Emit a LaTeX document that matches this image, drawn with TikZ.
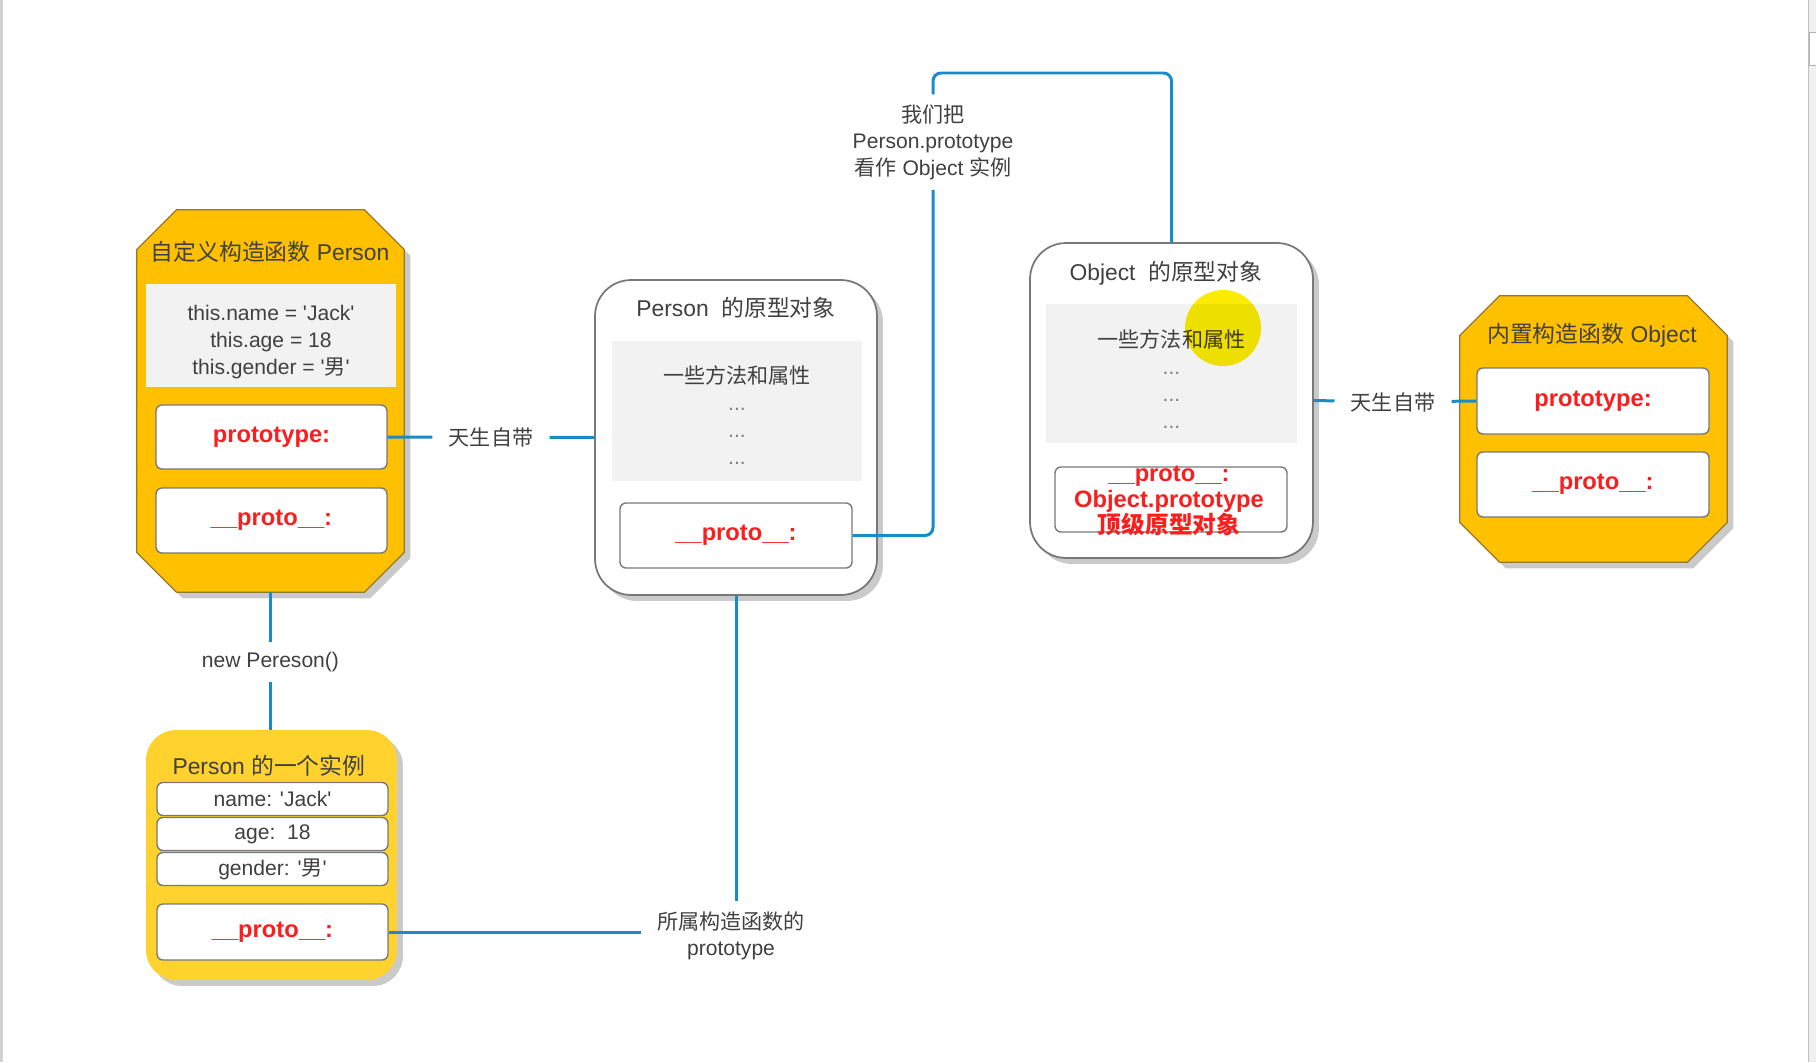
\documentclass[tikz,border=0pt]{standalone}
\usepackage{fontspec}
\setmainfont{Liberation Sans}
\newfontfamily\zhfont{Noto Sans CJK SC}
\usetikzlibrary{shadows, positioning}

\definecolor{linkblue}{RGB}{25,140,200}
\definecolor{ctorfill}{RGB}{255,192,0}
\definecolor{ctorline}{RGB}{150,120,50}
\definecolor{instfill}{RGB}{255,210,45}
\definecolor{bodygray}{RGB}{242,242,242}
\definecolor{boxline}{RGB}{120,120,120}
\definecolor{txtgray}{RGB}{64,64,64}
\definecolor{keyred}{RGB}{250,30,30}
\definecolor{hiyellow}{RGB}{250,235,0}

\newcommand{\zh}[1]{{\zhfont #1}}
\newcommand{\apos}{\textquotesingle}
\newcommand{\dotsgray}{{\color{gray}...}}
% octagon drawn round a named node
\newcommand{\ctoroutline}[1]{%
  \draw[ctorshape] ([xshift=0.8cm]#1.north west) -- ([xshift=-0.8cm]#1.north east)
    -- ([yshift=-0.8cm]#1.north east) -- ([yshift=0.8cm]#1.south east)
    -- ([xshift=-0.8cm]#1.south east) -- ([xshift=0.8cm]#1.south west)
    -- ([yshift=0.8cm]#1.south west) -- ([yshift=-0.8cm]#1.north west) -- cycle;}

\tikzset{
  link/.style = {draw=linkblue, line width=1.7pt, rounded corners=0.16cm},
  lbl/.style = {text=txtgray, font=\fontsize{12}{15}\selectfont, align=center, inner xsep=0.32cm, inner ysep=0.2cm},
  ttl/.style = {text=txtgray, font=\fontsize{13}{15}\selectfont, inner sep=0},
  dropsh/.style = {drop shadow={shadow xshift=0.12cm, shadow yshift=-0.12cm, opacity=0.35, fill=black!60}},
  ctorbox/.style = {rectangle, inner sep=0},
  ctorshape/.style = {draw=ctorline, fill=ctorfill, line width=0.7pt, dropsh},
  objbox/.style = {rectangle, rounded corners=0.72cm, draw=boxline, fill=white, line width=1pt, dropsh, inner sep=0},
  instbox/.style = {rectangle, rounded corners=0.6cm, fill=instfill, dropsh, inner sep=0},
  bodybox/.style = {rectangle, fill=bodygray, inner sep=0},
  bodytxt/.style = {text=txtgray, align=center, inner sep=0},
  slotbox/.style = {rectangle, rounded corners=0.12cm, draw=boxline, fill=white, line width=0.8pt, minimum width=4.62cm, inner sep=0},
  redkey/.style = {text=keyred, font=\bfseries\fontsize{13.5}{15}\selectfont},
  rowtxt/.style = {text=txtgray, font=\fontsize{12}{14}\selectfont},
}

\begin{document}
\begin{tikzpicture}[x=0.02cm, y=-0.02cm]
\useasboundingbox (0,0) rectangle (1816,1062);

% screen edges
\fill[gray!35] (0,0) rectangle (3,1062);
\fill[gray!12] (1808,0) rectangle (1816,1062);
\draw[gray!50] (1808,0) -- (1808,1062);
\draw[gray!60, fill=white] (1809,32) rectangle (1816,65);

% custom constructor Person
\node[ctorbox, minimum width=5.34cm, minimum height=7.64cm] (pctor) at (270.5,401) {};
\ctoroutline{pctor}
\node[ttl] (pctortitle) at (270,252) {\zh{自定义构造函数} Person};
\node[bodybox, minimum width=5cm, minimum height=2.06cm] (pbody) at (271,335.5) {};
\node[bodytxt, font=\fontsize{12}{15.4}\selectfont] (pbodytxt) at (271,342)
  {this.name = \apos Jack\apos\\ this.age = 18\\ this.gender = \apos\zh{男}\apos};
\node[slotbox, minimum height=1.28cm, redkey] (pctorproto) at (271.5,437) {prototype:};
\node[slotbox, minimum height=1.3cm, redkey] (pctorpro) at (271.5,520.5) {\_\_proto\_\_:};

% prototype object of Person
\node[objbox, minimum width=5.64cm, minimum height=6.3cm] (pobj) at (736,437.5) {};
\node[ttl] (pobjtitle) at (736,308) {Person\ \ \zh{的原型对象}};
\node[bodybox, minimum width=5cm, minimum height=2.8cm] (pobjbody) at (737,411) {};
\node[bodytxt, font=\fontsize{12}{15.3}\selectfont] (pobjtxt) at (737,415)
  {\zh{一些方法和属性}\\ \dotsgray\\ \dotsgray\\ \dotsgray};
\node[slotbox, minimum width=4.64cm, minimum height=1.3cm, redkey] (pobjpro) at (736,535.5) {\_\_proto\_\_:};

% prototype object of Object
\node[objbox, minimum width=5.66cm, minimum height=6.3cm] (oobj) at (1171.5,400.5) {};
\node[ttl] (oobjtitle) at (1166,273) {Object\ \ \zh{的原型对象}};
\node[bodybox, minimum width=5.02cm, minimum height=2.78cm] (oobjbody) at (1171.5,373.5) {};
\node[bodytxt, font=\fontsize{12}{15.3}\selectfont] (oobjtxt) at (1171.5,379)
  {\zh{一些方法和属性}\\ \dotsgray\\ \dotsgray\\ \dotsgray};
\node[slotbox, minimum width=4.64cm, minimum height=1.3cm] (oobjpro) at (1171,499.5) {};
\node[redkey, align=center, font=\bfseries\fontsize{13.5}{14.7}\selectfont, inner sep=0] (oobjprotxt) at (1169,501)
  {\_\_proto\_\_:\\ Object.prototype\\ \zh{顶级原型对象}};
\fill[hiyellow, blend mode=multiply] (1223,328) circle (0.76cm);

% built-in constructor Object
\node[ctorbox, minimum width=5.34cm, minimum height=5.32cm] (octor) at (1593.5,429) {};
\ctoroutline{octor}
\node[ttl] (octortitle) at (1592,335) {\zh{内置构造函数} Object};
\node[slotbox, minimum width=4.64cm, minimum height=1.32cm, redkey] (octorproto) at (1593,401) {prototype:};
\node[slotbox, minimum width=4.64cm, minimum height=1.3cm, redkey] (octorpro) at (1593,484.5) {\_\_proto\_\_:};

% instance of Person
\node[instbox, minimum width=5.02cm, minimum height=5cm] (inst) at (271.5,855) {};
\node[ttl] (insttitle) at (269,766) {Person \zh{的一个实例}};
\node[slotbox, minimum height=0.66cm, rowtxt] (iname) at (272.5,799) {name: \apos Jack\apos};
\node[slotbox, minimum height=0.66cm, rowtxt] (iage) at (272.5,834) {age:\ \ 18};
\node[slotbox, minimum height=0.66cm, rowtxt] (igender) at (272.5,869) {gender: \apos\zh{男}\apos};
\node[slotbox, minimum height=1.12cm, redkey] (ipro) at (272.5,932) {\_\_proto\_\_:};

% labels
\node[lbl] (lbnat1) at (491,437) {\zh{天生自带}};
\node[lbl] (lbnat2) at (1393,402) {\zh{天生自带}};
\node[lbl] (lbnew) at (270.5,662) {new Pereson()};
\node[lbl] (lbview) at (933,142) {\zh{我们把}\\ Person.prototype\\ \zh{看作} Object \zh{实例}};
\node[lbl] (lbown) at (731,936) {\zh{所属构造函数的}\\ prototype};
\coordinate (vtop) at (1171.5,73);

% connectors
\draw[link] (pctorproto.east) -- (lbnat1) -- (pobj.west);
\draw[link] (oobj.east) -- (lbnat2) -- (octorproto.west);
\draw[link] (pctor.south) -- (lbnew) -- (lbnew |- inst.north);
\draw[link] (pobjpro.east) -| (lbview.south);
\draw[link] (lbview.north) |- (vtop) -- (oobj.north);
\draw[link] (ipro.east) -- (lbown.west |- ipro.east);
\draw[link] (pobj.south) -- (pobj.south |- lbown.north);
\end{tikzpicture}
\end{document}
